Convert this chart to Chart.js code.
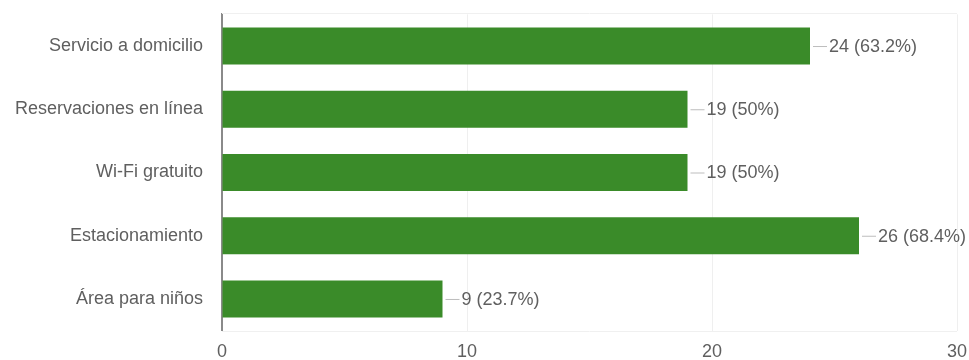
<!DOCTYPE html>
<html>
<head>
<meta charset="utf-8">
<script src="https://cdn.jsdelivr.net/npm/chart.js@4/dist/chart.umd.min.js"></script>
<style>
  html, body { margin: 0; padding: 0; background: #ffffff; }
  #wrap { width: 969px; height: 360px; position: relative; }
</style>
</head>
<body>
<div id="wrap"><canvas id="c" width="969" height="360"></canvas></div>
<script>
const categories = ["Servicio a domicilio", "Reservaciones en línea", "Wi-Fi gratuito", "Estacionamiento", "Área para niños"];
const counts = [24, 19, 19, 26, 9];
const percents = ["63.2%", "50%", "50%", "68.4%", "23.7%"];
const xTicks = [0, 10, 20, 30];

const FONT = "'Liberation Sans', Arial, sans-serif";
const TEXT = '#5f5f5f';

const areaFrame = {
  id: 'areaFrame',
  beforeDatasetsDraw(chart) {
    const { ctx, chartArea: a } = chart;
    ctx.save();
    ctx.strokeStyle = '#f0f0f0';
    ctx.lineWidth = 1;
    ctx.beginPath();
    ctx.moveTo(a.left, Math.round(a.top) - 0.5);
    ctx.lineTo(a.right, Math.round(a.top) - 0.5);
    ctx.moveTo(a.left, Math.round(a.bottom) + 0.5);
    ctx.lineTo(a.right, Math.round(a.bottom) + 0.5);
    ctx.stroke();
    ctx.restore();
  }
};

const valueLabels = {
  id: 'valueLabels',
  afterDatasetsDraw(chart) {
    const ctx = chart.ctx;
    const meta = chart.getDatasetMeta(0);
    ctx.save();
    ctx.font = '18px ' + FONT;
    ctx.textBaseline = 'middle';
    ctx.textAlign = 'left';
    meta.data.forEach((bar, i) => {
      const x = bar.x, y = bar.y;
      ctx.strokeStyle = '#bdbdbd';
      ctx.lineWidth = 1;
      ctx.beginPath();
      ctx.moveTo(x + 3, y + 0.5);
      ctx.lineTo(x + 17, y + 0.5);
      ctx.stroke();
      ctx.fillStyle = TEXT;
      ctx.fillText(counts[i] + ' (' + percents[i] + ')', x + 19, y + 1);
    });
    ctx.restore();
  }
};

new Chart(document.getElementById('c'), {
  type: 'bar',
  data: {
    labels: categories,
    datasets: [{
      data: counts,
      backgroundColor: '#3a8b29',
      borderWidth: 0,
      barPercentage: 0.585,
      categoryPercentage: 1.0
    }]
  },
  options: {
    indexAxis: 'y',
    responsive: false,
    animation: false,
    maintainAspectRatio: false,
    layout: { padding: { top: 14.4, right: 12, bottom: 0, left: 0 } },
    plugins: { legend: { display: false }, tooltip: { enabled: false } },
    scales: {
      x: {
        min: 0, max: 30,
        afterBuildTicks(scale) { scale.ticks = xTicks.map(v => ({ value: v })); },
        afterFit(scale) { scale.height = 29.4; scale.paddingLeft = 0; scale.paddingRight = 0; },
        grid: { color: '#efefef', drawTicks: false, lineWidth: 1 },
        border: { display: false },
        ticks: { color: TEXT, font: { family: FONT, size: 18, lineHeight: 1 }, padding: 12, maxRotation: 0 }
      },
      y: {
        afterFit(scale) { scale.width = 222; scale.paddingTop = 0; scale.paddingBottom = 0; },
        grid: { display: false, drawTicks: false },
        border: { display: true, color: '#8a8a8a', width: 2 },
        ticks: { color: TEXT, font: { family: FONT, size: 18 }, padding: 19 }
      }
    }
  },
  plugins: [areaFrame, valueLabels]
});
</script>
</body>
</html>
